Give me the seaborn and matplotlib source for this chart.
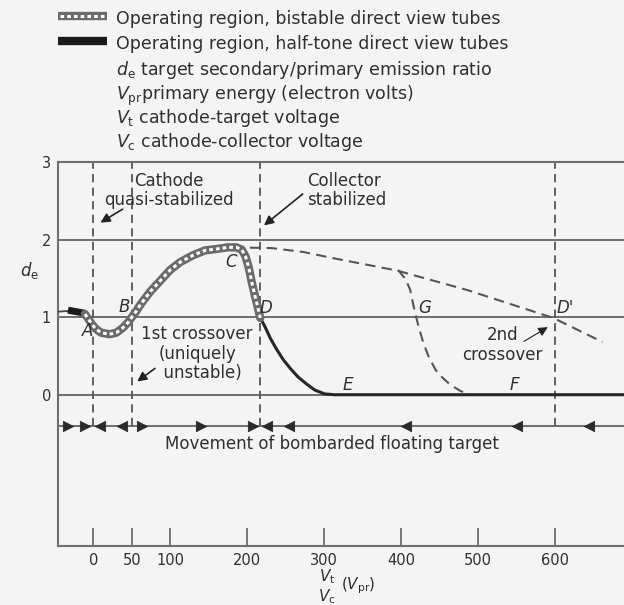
import matplotlib
matplotlib.use("Agg")
import matplotlib.pyplot as plt
import seaborn as sns
from matplotlib.lines import Line2D

# ---- data -----------------------------------------------------------------
# short lead-in of the emission curve left of A
lead_v = [-46, -33]
lead_de = [1.07, 1.08]
# short half-tone stretch left of A
wedge_v = [-33, -11]
wedge_de = [1.09, 1.05]
# bistable operating region A -> B -> C -> D
bistable_v = [-11, -6, -2, 3, 10, 21, 30, 38, 45, 50, 56, 61, 74, 87, 100, 113, 130, 145, 161,
              175, 186, 193, 198, 202, 206, 210, 214, 217]
bistable_de = [1.04, 0.97, 0.91, 0.85, 0.80, 0.78, 0.80, 0.86, 0.93, 1.00, 1.08, 1.16, 1.33, 1.47,
               1.61, 1.71, 1.80, 1.86, 1.88, 1.90, 1.90, 1.87, 1.78, 1.64, 1.45, 1.28, 1.12, 0.99]
# half-tone operating region D -> E and on along d_e = 0
halftone_v = [217, 223, 230, 238, 247, 256, 266, 277, 288, 301, 314, 690]
halftone_de = [0.99, 0.88, 0.73, 0.59, 0.45, 0.34, 0.23, 0.14, 0.06, 0.01, 0.0, 0.0]
# collector-stabilized emission curve C -> D' (dashed)
collector_v = [182, 232, 273, 312, 395, 486, 598, 662]
collector_de = [1.90, 1.89, 1.84, 1.76, 1.60, 1.35, 0.99, 0.68]
# branch G (dashed)
branch_g_v = [396, 406, 412, 416, 420, 424, 429, 436, 445, 454, 464, 477, 490]
branch_g_de = [1.61, 1.49, 1.35, 1.16, 0.99, 0.84, 0.67, 0.49, 0.32, 0.22, 0.13, 0.05, 0.0]
# region boundaries (dashed verticals)
boundaries = [0, 50, 217, 600]
# movement of the floating target
move_level = -0.4
move_right = [-33, -11, 63, 140, 207]
move_left = [8, 37, 226, 254, 406, 551, 645]
# point labels
point_names = ["A", "B", "C", "D", "E", "F", "G", "D'"]
point_v = [-7, 40, 179, 225, 331, 547, 431, 613]
point_de = [0.82, 1.13, 1.71, 1.12, 0.13, 0.12, 1.12, 1.12]

x_ticks = [0, 50, 100, 200, 300, 400, 500, 600]
y_ticks = [0, 1, 2, 3]
x_range = (-46, 690)
y_range = (-1.95, 3)

# ---- style ------------------------------------------------------------------
sns.set_theme(style="white")
BG = "#f4f4f4"
INK = "#2f2f2f"
GRID = "#6e6e6e"
FS = 12
plt.rcParams["font.family"] = ["DejaVu Sans"]
plt.rcParams["mathtext.fontset"] = "dejavusans"

W, H = 624, 605
fig = plt.figure(figsize=(W / 100, H / 100), dpi=100, facecolor=BG)
ax = fig.add_axes([58 / W, 1 - 546 / H, 1 - 58 / W, (546 - 162) / H])
ax.set_facecolor(BG)


def px(x, y):
    return x / W, 1 - y / H


# horizontal reference lines
for level in [0, 1, 2, move_level]:
    ax.axhline(level, color=GRID, lw=1.4, zorder=1)

# boundary verticals
ax.vlines(boundaries, move_level, 3, colors="#555555", lw=1.3,
          linestyles=(0, (4.5, 3)), zorder=2)

# dashed emission curves
sns.lineplot(x=collector_v, y=collector_de, sort=False, estimator=None, ax=ax,
             color="#555555", lw=1.5, linestyle=(0, (5, 3)), zorder=3)
sns.lineplot(x=branch_g_v, y=branch_g_de, sort=False, estimator=None, ax=ax,
             color="#555555", lw=1.5, linestyle=(0, (5, 3)), zorder=3)

# lead-in and half-tone stretches
sns.lineplot(x=lead_v, y=lead_de, sort=False, estimator=None, ax=ax,
             color="#444444", lw=1.3, zorder=4)
sns.lineplot(x=wedge_v, y=wedge_de, sort=False, estimator=None, ax=ax,
             color="#1a1a1a", lw=5, solid_capstyle="butt", zorder=5)
sns.lineplot(x=halftone_v, y=halftone_de, sort=False, estimator=None, ax=ax,
             color="#262626", lw=2.2, zorder=4)

# bistable region: grey band with white hatch dashes
sns.lineplot(x=bistable_v, y=bistable_de, sort=False, estimator=None, ax=ax,
             color="#6a6a6a", lw=6, solid_joinstyle="round", zorder=5)
sns.lineplot(x=bistable_v, y=bistable_de, sort=False, estimator=None, ax=ax,
             color="white", lw=2.2, linestyle=(0, (1.2, 1.0)), zorder=6)

# movement arrows
sns.scatterplot(x=move_right, y=[move_level] * len(move_right), marker=">", s=55,
                color="#2a2a2a", edgecolor="#2a2a2a", ax=ax, zorder=7)
sns.scatterplot(x=move_left, y=[move_level] * len(move_left), marker="<", s=55,
                color="#2a2a2a", edgecolor="#2a2a2a", ax=ax, zorder=7)

# point letters
for name, v, d in zip(point_names, point_v, point_de):
    ax.text(v, d, name, fontsize=FS, style="italic", color=INK,
            ha="center", va="center", zorder=8)

# annotations
arrow_kw = dict(arrowstyle="-|>", color="#222222", lw=1.2, mutation_scale=14)
ax.text(98, 2.63, "Cathode\nquasi-stabilized", fontsize=FS, color=INK,
        ha="center", va="center", linespacing=1.1)
ax.annotate("", xy=(6, 2.2), xytext=(41, 2.41), arrowprops=arrow_kw)
ax.text(278, 2.63, "Collector\nstabilized", fontsize=FS, color=INK,
        ha="left", va="center", linespacing=1.1)
ax.annotate("", xy=(219, 2.16), xytext=(275, 2.61), arrowprops=arrow_kw)
ax.text(135, 0.53, "1st crossover\n(uniquely\n  unstable)", fontsize=FS, color=INK,
        ha="center", va="center", linespacing=1.1)
ax.annotate("", xy=(54, 0.15), xytext=(83, 0.36), arrowprops=arrow_kw)
ax.text(532, 0.64, "2nd\ncrossover", fontsize=FS, color=INK,
        ha="center", va="center", linespacing=1.1)
ax.annotate("", xy=(594, 0.89), xytext=(557, 0.67),
            arrowprops=dict(arrowstyle="-|>", color="#222222", lw=0.8, mutation_scale=14))
ax.text(310, -0.64, "Movement of bombarded floating target", fontsize=FS,
        color=INK, ha="center", va="center")

# axes
ax.set_xlim(*x_range)
ax.set_ylim(*y_range)
ax.set_xticks(x_ticks)
ax.set_xticklabels([str(t) for t in x_ticks])
ax.set_yticks(y_ticks)
ax.set_yticklabels([str(t) for t in y_ticks])
ax.tick_params(axis="x", direction="in", length=13, width=1.3, color=GRID,
               labelsize=10.5, labelcolor=INK, pad=5, bottom=True)
ax.tick_params(axis="y", length=0, labelsize=10.5, labelcolor=INK, pad=5, left=True)
for side in ["left", "bottom", "top"]:
    ax.spines[side].set_color(GRID)
    ax.spines[side].set_linewidth(1.5)
ax.spines["right"].set_visible(False)
ax.set_xlabel("")
ax.set_ylabel("")

# axis titles
fig.text(*px(30, 270), r"$d_\mathrm{e}$", fontsize=12, color=INK, ha="center", va="center")
fig.text(*px(327, 577), r"$V_\mathrm{t}$", fontsize=11, color=INK, ha="center", va="center")
fig.text(*px(327, 597), r"$V_\mathrm{c}$", fontsize=11, color=INK, ha="center", va="center")
fig.text(*px(341, 586), r"$(V_\mathrm{pr})$", fontsize=11, color=INK, ha="left", va="center")

# key
key_y = [18, 43, 69, 94, 117, 141]
key_text = [
    "Operating region, bistable direct view tubes",
    "Operating region, half-tone direct view tubes",
    r"$d_\mathrm{e}$ target secondary/primary emission ratio",
    r"$V_\mathrm{pr}$primary energy (electron volts)",
    r"$V_\mathrm{t}$ cathode-target voltage",
    r"$V_\mathrm{c}$ cathode-collector voltage",
]
x0, y0 = px(58, 16)
x1, _ = px(107, 16)
fig.add_artist(Line2D([x0, x1], [y0, y0], color="#6a6a6a", lw=6, solid_capstyle="butt",
                      transform=fig.transFigure))
fig.add_artist(Line2D([x0 + 0.004, x1 - 0.004], [y0, y0], color="white", lw=2.2,
                      linestyle=(0, (1.2, 1.0)), transform=fig.transFigure))
_, y0 = px(58, 41)
fig.add_artist(Line2D([x0, x1], [y0, y0], color="#1a1a1a", lw=6, solid_capstyle="butt",
                      transform=fig.transFigure))
for yy, t in zip(key_y, key_text):
    fig.text(*px(116, yy + 6), t, fontsize=12.5, color=INK, ha="left", va="baseline")

fig.savefig("out.png", dpi=100, facecolor=BG)
